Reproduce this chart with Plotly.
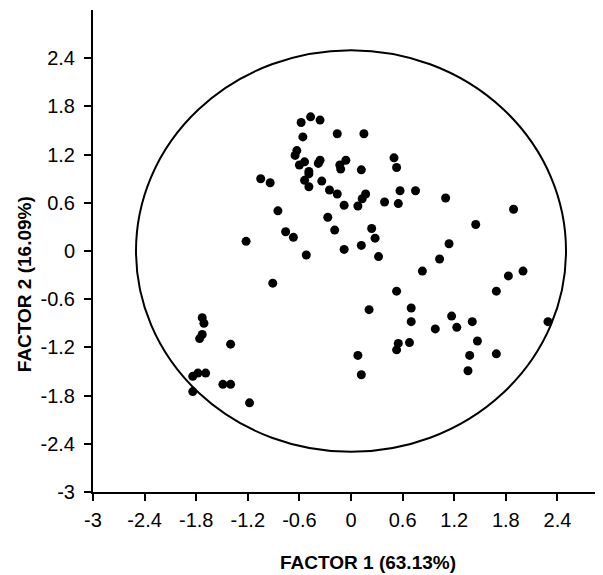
import plotly.graph_objects as go

# Factor scores (FACTOR 1, FACTOR 2)
factor1 = [
    -0.58, -0.47, -0.36, -0.16, -0.56, -0.63, -0.65, -0.60, -0.54, -0.49,
    -0.49, -0.54, -0.49, -0.38, -0.36, -0.34, -0.13, -0.12, -0.06, -0.25,
    -0.16, -0.08, -1.05, -0.94, -0.85, -0.27, -0.76, -0.67, -0.19, -1.22,
    -0.52, -0.08, 0.15, 0.12, 0.50, 0.53, 0.17, 0.13, 0.08, 0.39,
    0.55, 0.57, 0.75, 1.10, 1.89, 0.24, 0.28, 0.12, 1.45, 1.14,
    0.32, 1.03, 0.83, 2.00, 1.83, 0.53, 1.69, 0.21, 0.70, 0.70,
    1.17, 1.23, 1.41, 0.98, 2.29, 1.47, 0.55, 0.53, 0.68, 0.08,
    1.38, 1.69, 0.12, 1.36, -0.91, -1.73, -1.71, -1.73, -1.76, -1.40,
    -1.84, -1.78, -1.69, -1.49, -1.40, -1.84, -1.18,
]
factor2 = [
    1.60, 1.67, 1.63, 1.46, 1.42, 1.25, 1.19, 1.07, 1.11, 0.99,
    0.96, 0.88, 0.80, 1.09, 1.13, 0.87, 1.07, 1.02, 1.13, 0.76,
    0.71, 0.57, 0.90, 0.85, 0.50, 0.42, 0.24, 0.17, 0.26, 0.12,
    -0.05, 0.02, 1.46, 1.01, 1.16, 1.04, 0.71, 0.65, 0.56, 0.61,
    0.59, 0.75, 0.75, 0.66, 0.52, 0.28, 0.16, 0.07, 0.33, 0.09,
    -0.07, -0.10, -0.25, -0.25, -0.31, -0.50, -0.50, -0.73, -0.71, -0.88,
    -0.81, -0.95, -0.88, -0.97, -0.88, -1.12, -1.15, -1.23, -1.14, -1.30,
    -1.30, -1.28, -1.54, -1.49, -0.40, -0.83, -0.90, -1.04, -1.09, -1.16,
    -1.56, -1.52, -1.52, -1.66, -1.66, -1.75, -1.89,
]

tick_values = [-3, -2.4, -1.8, -1.2, -0.6, 0, 0.6, 1.2, 1.8, 2.4]
tick_labels = ["-3", "-2.4", "-1.8", "-1.2", "-0.6", "0", "0.6", "1.2", "1.8", "2.4"]
circle_radius = 2.5
x_title = "FACTOR 1 (63.13%)"
y_title = "FACTOR 2 (16.09%)"

FONT = "Liberation Sans, Arial, sans-serif"

fig = go.Figure()
fig.add_trace(go.Scatter(
    x=factor1, y=factor2, mode="markers",
    marker=dict(symbol="circle", size=9, color="black", line=dict(width=0)),
    showlegend=False, hoverinfo="x+y",
))

fig.add_shape(type="circle", xref="x", yref="y",
              x0=-circle_radius, x1=circle_radius,
              y0=-circle_radius, y1=circle_radius,
              line=dict(color="black", width=2), layer="below")

axis_common = dict(
    showline=True, linecolor="black", linewidth=2,
    ticks="outside", ticklen=7, tickwidth=2, tickcolor="black",
    showgrid=False, zeroline=False,
    tickvals=tick_values, ticktext=tick_labels,
    tickfont=dict(family=FONT, size=20, color="black"),
    automargin=False,
)

fig.update_xaxes(range=[-3, 2.93], ticklabelstandoff=2, **axis_common)
fig.update_yaxes(range=[-3, 3], ticklabelstandoff=5, **axis_common)

fig.add_annotation(text="<b>" + x_title + "</b>", xref="paper", yref="paper",
                   x=0.539, y=-0.147, xanchor="center", yanchor="middle",
                   showarrow=False, font=dict(family=FONT, size=19, color="black"))
fig.add_annotation(text="<b>" + y_title + "</b>", xref="paper", yref="paper",
                   x=-0.135, y=0.4315, xanchor="center", yanchor="middle",
                   textangle=-90, showarrow=False,
                   font=dict(family=FONT, size=19, color="black"))

fig.update_layout(
    width=595, height=567,
    margin=dict(l=85, r=0, t=2, b=83),
    plot_bgcolor="white", paper_bgcolor="white",
)

fig.write_html("out.html")
